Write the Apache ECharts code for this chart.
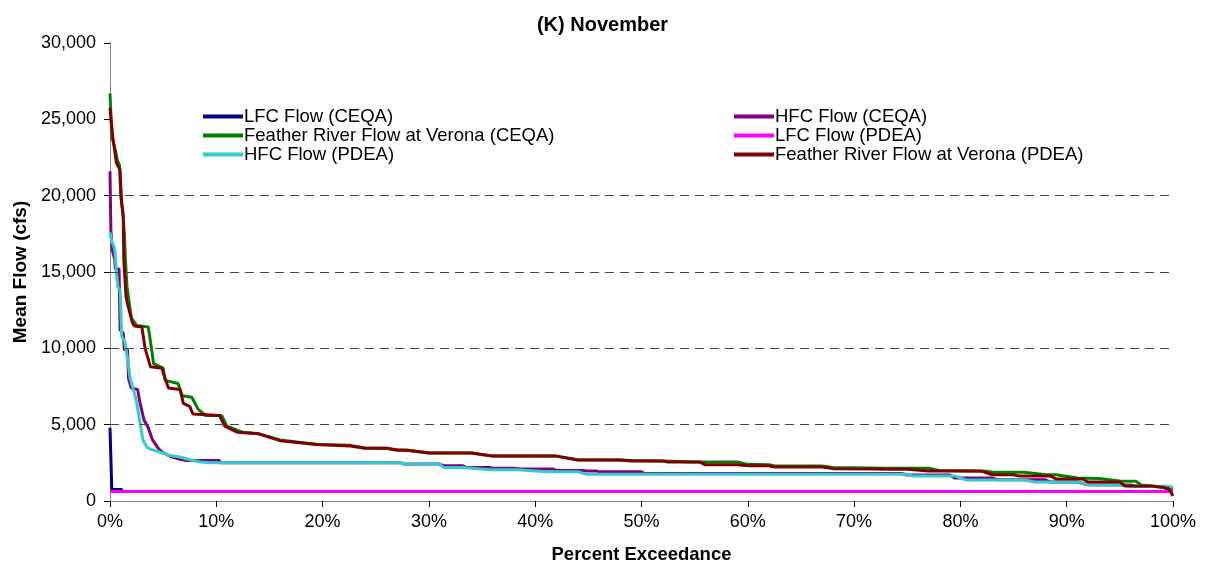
<!DOCTYPE html>
<html>
<head>
<meta charset="utf-8">
<script src="https://cdn.jsdelivr.net/npm/echarts@6/dist/echarts.min.js"></script>
<style>
html,body{margin:0;padding:0;background:#fff;}
#c{width:1205px;height:569px;}
</style>
</head>
<body>
<div id="c"></div>
<script>
// ---- data (percent exceedance, mean flow cfs) ----
const titleText = "(K) November";
const xTicks = [0, 10, 20, 30, 40, 50, 60, 70, 80, 90, 100];
const yTicks = [0, 5000, 10000, 15000, 20000, 25000, 30000];
const gridValues = [5000, 10000, 15000, 20000];

const seriesNames = [
  "LFC Flow (CEQA)",
  "HFC Flow (CEQA)",
  "Feather River Flow at Verona (CEQA)",
  "LFC Flow (PDEA)",
  "HFC Flow (PDEA)",
  "Feather River Flow at Verona (PDEA)"
];

const lfcCEQA = [[0,4800],[0.15,4800],[0.17,760],[1.1,760],[1.15,620],[100,620]];

const hfcCEQA = [[0,21600],[0.08,17800],[0.2,16500],[0.45,15800],[0.5,15200],[0.85,15200],[0.95,11200],[1.25,11000],
  [1.35,9900],[1.65,9900],[1.75,8000],[2.0,7400],[2.6,7300],[2.8,6500],[3.2,5300],[3.6,4800],[4.0,4000],[4.4,3600],
  [4.6,3400],[5.0,3150],[5.6,2950],[6.5,2750],[7.2,2650],[10.3,2650],[10.4,2500],[27.4,2500],[27.6,2420],[31,2420],
  [31.4,2310],[33.2,2310],[33.5,2200],[35.7,2200],[36,2150],[38,2150],[38.6,2090],[41.7,2090],[42,2000],[44.5,2000],
  [44.8,1960],[45.8,1960],[46,1920],[50,1920],[50.3,1800],[74.5,1800],[75,1700],[79,1700],[79.5,1500],[83,1500],
  [83.5,1390],[88,1390],[88.5,1240],[91,1240],[92,1060],[96,1050],[96.5,950],[99,950],[100,800]];

const fthCEQA = [[0,26700],[0.1,25000],[0.2,23800],[0.5,23000],[0.7,22300],[0.9,22000],[1.0,20000],[1.2,19000],
  [1.35,17500],[1.45,15800],[1.6,14000],[2.0,12000],[2.5,11500],[3.6,11400],[3.9,10000],[4.1,9000],[5.0,8700],
  [5.2,7900],[6.4,7700],[6.8,6900],[7.7,6800],[8.3,6000],[9,5600],[10.5,5600],[11,4900],[12.5,4500],[14,4400],
  [16,4000],[19.5,3700],[22.5,3650],[24,3470],[26,3450],[27,3350],[28,3330],[30,3150],[34,3140],[36,2950],[42,2940],
  [44,2700],[48,2680],[49,2650],[52,2620],[55,2550],[59,2550],[60,2400],[62,2380],[62.5,2300],[67,2290],[68,2200],
  [73,2150],[77,2150],[78,2000],[82.5,1950],[83,1890],[86,1890],[88,1720],[89,1720],[91,1500],[93,1480],[95,1310],
  [96.5,1300],[97,1050],[99,900],[100,700]];

const lfcPDEA = [[0,620],[100,620]];

const hfcPDEA = [[0,17600],[0.15,17000],[0.3,16800],[0.45,16500],[0.6,15000],[0.75,14000],[0.95,13800],[1.1,10800],
  [1.4,10400],[1.7,9100],[1.9,8000],[2.2,7300],[2.5,6500],[2.8,5200],[3.1,4000],[3.5,3500],[4.0,3350],[4.5,3250],
  [5.5,3000],[6.6,2880],[7.5,2700],[8.5,2550],[9.5,2500],[27.4,2500],[27.6,2420],[31,2420],[31.4,2200],[33.2,2200],
  [35.7,2050],[38.3,2050],[41,1920],[44,1920],[44.8,1760],[73,1760],[75,1760],[75.5,1640],[79.5,1630],[80.5,1380],
  [86,1370],[87,1250],[91,1240],[92,1060],[95,1050],[96,970],[99.5,960],[100,900]];

const fthPDEA = [[0,25750],[0.15,25700],[0.25,23900],[0.6,22150],[0.94,21700],[1.1,19500],[1.25,18600],[1.3,15800],
  [1.5,13400],[1.7,12760],[2.1,11700],[2.3,11460],[3.0,11400],[3.3,10000],[3.8,8800],[4.9,8700],[5.0,8400],[5.5,7400],
  [6.6,7300],[6.9,6400],[7.5,6200],[7.8,5700],[10.3,5600],[10.8,4900],[12,4500],[14,4400],[16,3950],[19.5,3700],
  [22.6,3600],[24,3460],[26,3460],[27,3330],[28,3330],[30,3140],[34,3140],[36,2940],[42,2940],[44,2680],[48,2680],
  [49,2620],[52,2620],[52.5,2550],[55.5,2550],[56,2370],[59,2370],[60,2310],[62,2310],[62.5,2220],[67,2220],
  [68,2120],[72,2100],[73,2080],[75,2080],[77,1960],[82,1960],[83,1720],[85,1720],[85.5,1630],[88.5,1630],
  [89,1440],[91.5,1440],[92,1240],[95,1240],[95.5,980],[98,980],[99,900],[99.6,800],[100,330]];

const seriesData = [lfcCEQA, hfcCEQA, fthCEQA, lfcPDEA, hfcPDEA, fthPDEA];
const seriesColors = ["#000080", "#800080", "#008000", "#FF00FF", "#33CCCC", "#800000"];

// ---- chart ----
const chart = echarts.init(document.getElementById('c'), null, {renderer: 'canvas'});
const FONT = 'Liberation Sans, Arial, sans-serif';

const series = seriesNames.map((n, i) => ({
  name: n,
  type: 'line',
  data: seriesData[i],
  showSymbol: false,
  symbol: 'none',
  lineStyle: {color: seriesColors[i], width: 3},
  itemStyle: {color: seriesColors[i]},
  animation: false,
  z: 3
}));

series.push({
  name: '_grid',
  type: 'line',
  data: [],
  silent: true,
  z: 1,
  markLine: {
    silent: true,
    symbol: 'none',
    label: {show: false},
    animation: false,
    lineStyle: {color: '#444', type: [9, 6], width: 1},
    data: gridValues.map(v => ({yAxis: v}))
  }
});

const legendText = {fontFamily: FONT, fontSize: 18.5, lineHeight: 19, color: '#000', padding: [0,0,0,-4]};

chart.setOption({
  animation: false,
  backgroundColor: '#fff',
  title: {
    text: titleText, left: 'center', top: 10,
    textStyle: {fontFamily: FONT, fontSize: 20, fontWeight: 'bold', color: '#000'}
  },
  grid: {left: 110, right: 32, top: 43, bottom: 67, containLabel: false},
  legend: [
    {
      data: [seriesNames[0], seriesNames[2], seriesNames[4]],
      orient: 'vertical', left: 198, top: 102, itemGap: 0,
      icon: 'rect', itemWidth: 40, itemHeight: 4,
      textStyle: legendText,
      selectedMode: false
    },
    {
      data: [seriesNames[1], seriesNames[3], seriesNames[5]],
      orient: 'vertical', left: 729, top: 102, itemGap: 0,
      icon: 'rect', itemWidth: 40, itemHeight: 4,
      textStyle: legendText,
      selectedMode: false
    }
  ],
  xAxis: [
    {
      type: 'value', min: 0, max: 100, interval: 10,
      name: 'Percent Exceedance', nameLocation: 'middle', nameGap: 44,
      nameTextStyle: {fontFamily: FONT, fontSize: 18.5, fontWeight: 'bold', color: '#000'},
      axisLine: {show: true, onZero: false, lineStyle: {color: '#000', width: 1}},
      axisTick: {show: true, inside: false, length: 6, lineStyle: {color: '#000'}},
      axisLabel: {fontFamily: FONT, fontSize: 18, color: '#000', margin: 12, formatter: v => v + '%'},
      splitLine: {show: false}
    },
    {
      type: 'value', min: 0, max: 100, position: 'top',
      axisLine: {show: true, lineStyle: {color: '#888', width: 1}},
      axisTick: {show: false}, axisLabel: {show: false}, splitLine: {show: false}
    }
  ],
  yAxis: [
    {
      type: 'value', min: 0, max: 30000, interval: 5000,
      name: 'Mean Flow (cfs)', nameLocation: 'middle', nameGap: 80, nameRotate: 90,
      nameTextStyle: {fontFamily: FONT, fontSize: 19, fontWeight: 'bold', color: '#000'},
      axisLine: {show: true, onZero: false, lineStyle: {color: '#000', width: 1}},
      axisTick: {show: true, inside: false, length: 6, lineStyle: {color: '#000'}},
      axisLabel: {fontFamily: FONT, fontSize: 18, color: '#000', margin: 14,
        formatter: v => v.toLocaleString('en-US')},
      splitLine: {show: false}
    },
    {
      type: 'value', min: 0, max: 30000, position: 'right',
      axisLine: {show: true, lineStyle: {color: '#888', width: 1}},
      axisTick: {show: false}, axisLabel: {show: false}, splitLine: {show: false}
    }
  ],
  series: series
});
</script>
</body>
</html>
